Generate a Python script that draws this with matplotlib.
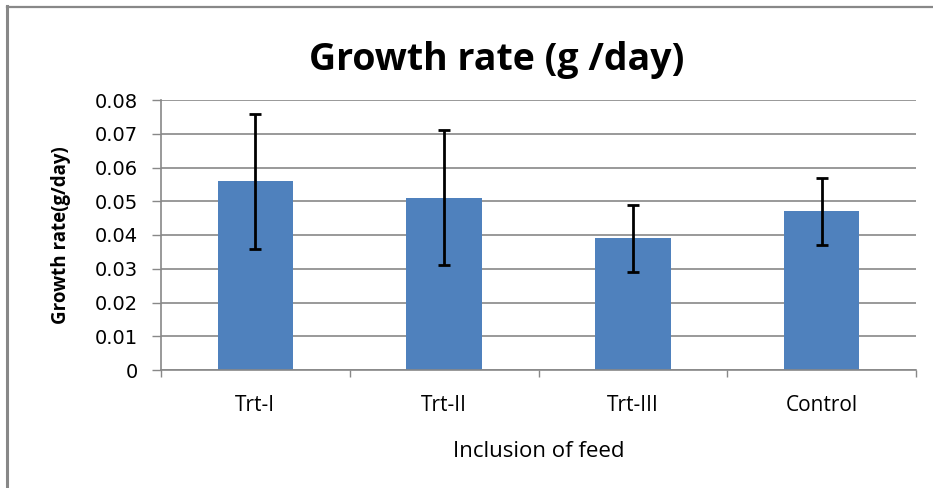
import numpy as np
import matplotlib
matplotlib.use("Agg")
import matplotlib.pyplot as plt
from matplotlib.lines import Line2D

# data
groups = ["Trt-I", "Trt-II", "Trt-III", "Control"]
growth = [0.056, 0.051, 0.039, 0.047]
err = [0.02, 0.02, 0.01, 0.01]
yticks = [0, 0.01, 0.02, 0.03, 0.04, 0.05, 0.06, 0.07, 0.08]
ytick_labels = ["0", "0.01", "0.02", "0.03", "0.04", "0.05", "0.06", "0.07", "0.08"]

W, H = 933, 488
fig = plt.figure(figsize=(W / 100, H / 100), dpi=100)
fig.patch.set_facecolor("white")

# outer chart frame: only top and left edges fall inside the picture
fig.lines.append(Line2D([7.5 / W, 1.0], [1 - 7 / H, 1 - 7 / H], transform=fig.transFigure,
                        color="#888888", linewidth=1.6))
fig.lines.append(Line2D([7.5 / W, 7.5 / W], [0, 1 - 6 / H], transform=fig.transFigure,
                        color="#888888", linewidth=2.2))

ax = fig.add_axes([161 / W, 1 - 370 / H, (916 - 161) / W, (370 - 100) / H])
x = np.arange(len(groups))
ax.bar(x, growth, width=0.4, color="#4F81BD", zorder=2)
ax.errorbar(x, growth, yerr=err, fmt="none", ecolor="black", elinewidth=2,
            capsize=4.6, capthick=2, zorder=3)

ax.set_xlim(-0.5, len(groups) - 0.5)
ax.set_ylim(0, 0.08)
ax.set_yticks(yticks)
ax.set_yticklabels(ytick_labels, fontsize=14, family="DejaVu Sans")
ax.set_xticks(x)
ax.set_xticklabels(groups, fontsize=15, family="Open Sans")
ax.set_xticks(np.arange(len(groups) + 1) - 0.5, minor=True)
ax.tick_params(axis="x", which="major", length=0, pad=18)
ax.tick_params(axis="x", which="minor", length=5, color="#888888", width=1)
ax.tick_params(axis="y", length=6.5, color="#888888", width=1, pad=10)
ax.yaxis.grid(True, color="#888888", linewidth=1.2, zorder=0)
ax.set_axisbelow(True)
for s in ["top", "right"]:
    ax.spines[s].set_visible(False)
for s in ["left", "bottom"]:
    ax.spines[s].set_color("#888888")
    ax.spines[s].set_linewidth(1.2)

ax.set_ylabel("Growth rate(g/day)", fontsize=13.5, fontweight="bold", family="Open Sans", labelpad=17)
ax.set_xlabel("Inclusion of feed", fontsize=16, family="Open Sans", labelpad=18)
fig.text(497 / W, 1 - 60 / H, "Growth rate (g /day)", ha="center", va="center",
         fontsize=27, fontweight="bold", family="Open Sans")

fig.savefig("out.png", dpi=100)
